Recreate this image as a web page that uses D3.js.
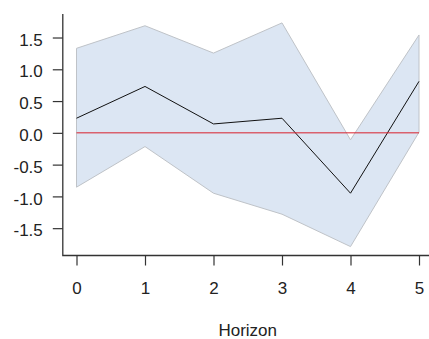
<!DOCTYPE html>
<html>
<head>
<meta charset="utf-8">
<script src="https://cdn.jsdelivr.net/npm/d3@7"></script>
<style>
  body { margin: 0; background: #fff; }
  text { font-family: "Liberation Sans", Arial, sans-serif; fill: #222; }
</style>
</head>
<body>
<svg width="429" height="339"></svg>
<script>
var horizon = [0, 1, 2, 3, 4, 5];
var estimate = [0.23, 0.73, 0.14, 0.23, -0.95, 0.81];
var upper = [1.33, 1.685, 1.255, 1.73, -0.11, 1.54];
var lower = [-0.855, -0.216, -0.95, -1.28, -1.79, 0.01];
var yTicks = [-1.5, -1.0, -0.5, 0.0, 0.5, 1.0, 1.5];

var svg = d3.select("svg");

var x = d3.scaleLinear().domain([-0.2, 5.2]).range([62.8, 432.7]);
var y = d3.scaleLinear().domain([-1.93, 1.87]).range([255.5, 14]);

var rows = horizon.map(function(h, i) {
  return { h: h, est: estimate[i], up: upper[i], lo: lower[i] };
});

// confidence band
var band = d3.area()
    .x(function(d) { return x(d.h); })
    .y0(function(d) { return y(d.lo); })
    .y1(function(d) { return y(d.up); });

svg.append("path")
    .datum(rows)
    .attr("d", band)
    .attr("fill", "#dce6f3")
    .attr("stroke", "#bfc3c8")
    .attr("stroke-width", 1);

// point estimate
svg.append("path")
    .datum(rows)
    .attr("d", d3.line().x(function(d) { return x(d.h); }).y(function(d) { return y(d.est); }))
    .attr("fill", "none")
    .attr("stroke", "#111")
    .attr("stroke-width", 1);

// zero line
svg.append("line")
    .attr("x1", x(0)).attr("x2", x(5))
    .attr("y1", y(0)).attr("y2", y(0))
    .attr("stroke", "#d8202c")
    .attr("stroke-width", 1);

// L-shaped box
svg.append("path")
    .attr("d", "M" + x.range()[0] + "," + y.range()[1] + "V" + y.range()[0] + "H" + x.range()[1])
    .attr("fill", "none")
    .attr("stroke", "#333")
    .attr("stroke-width", 1.3);

var fmt = d3.format(".1f");

// y axis
var yAxis = d3.axisLeft(y)
    .tickValues(yTicks)
    .tickSize(10)
    .tickPadding(10)
    .tickFormat(function(d) { return fmt(d).replace("\u2212", "-"); });

var gy = svg.append("g")
    .attr("transform", "translate(" + x.range()[0] + ",0)")
    .call(yAxis);
gy.select(".domain").remove();
gy.selectAll(".tick line").attr("stroke", "#333").attr("stroke-width", 1.2);
gy.selectAll(".tick text").style("font-size", "17px").attr("fill", "#222").attr("dy", "0.45em");

// x axis
var xAxis = d3.axisBottom(x)
    .tickValues(horizon)
    .tickSize(10)
    .tickPadding(16)
    .tickFormat(d3.format("d"));

var gx = svg.append("g")
    .attr("transform", "translate(0," + y.range()[0] + ")")
    .call(xAxis);
gx.select(".domain").remove();
gx.selectAll(".tick line").attr("stroke", "#333").attr("stroke-width", 1.2);
gx.selectAll(".tick text").style("font-size", "17px").attr("fill", "#222");

svg.append("text")
    .attr("x", (x.range()[0] + x.range()[1]) / 2)
    .attr("y", 336)
    .attr("text-anchor", "middle")
    .style("font-size", "17px")
    .text("Horizon");
</script>
</body>
</html>
